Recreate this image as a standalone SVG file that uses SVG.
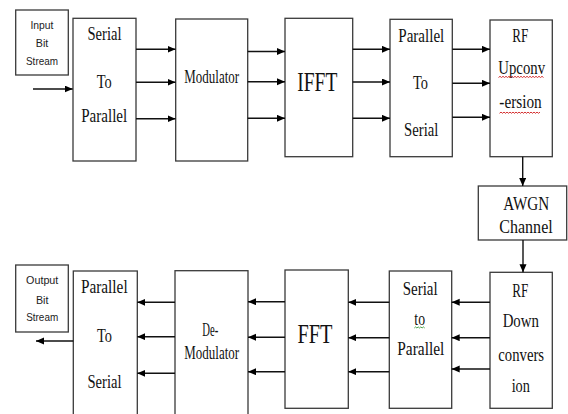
<svg xmlns="http://www.w3.org/2000/svg" width="568" height="414" viewBox="0 0 568 414">
<defs>
<marker id="ah" markerUnits="userSpaceOnUse" markerWidth="9" markerHeight="8" refX="8" refY="3.5" orient="auto">
<path d="M0,0 L8,3.5 L0,7 z" fill="#000"/>
</marker>
<style>
.box{fill:#fff;stroke:#3a3a3a;stroke-width:1.3}
.t{font-family:"Liberation Serif","Times New Roman",serif;font-size:18px;fill:#111;text-anchor:middle}
.s{font-family:"Liberation Sans",Arial,sans-serif;font-size:10.5px;fill:#222;text-anchor:middle}
.c line{stroke:#111;stroke-width:1.4;marker-end:url(#ah)}
.sq{fill:none;stroke-width:0.9}
</style>
</defs>
<rect width="568" height="414" fill="#fff"/>

<g id="input">
<rect class="box" x="15.7" y="10" width="52.6" height="65"/>
<text class="s" x="42" y="28.5" textLength="23" lengthAdjust="spacingAndGlyphs">Input</text>
<text class="s" x="42" y="46.5" textLength="12.5" lengthAdjust="spacingAndGlyphs">Bit</text>
<text class="s" x="42" y="64.5" textLength="32" lengthAdjust="spacingAndGlyphs">Stream</text>
</g>

<g id="sp1">
<rect class="box" x="73" y="18.3" width="63" height="142.7"/>
<text class="t" x="104.5" y="40" textLength="34" lengthAdjust="spacingAndGlyphs">Serial</text>
<text class="t" x="104.2" y="87.5" textLength="15" lengthAdjust="spacingAndGlyphs">To</text>
<text class="t" x="104.2" y="121.5" textLength="46" lengthAdjust="spacingAndGlyphs">Parallel</text>
</g>

<g id="mod">
<rect class="box" x="175.7" y="19" width="72" height="142"/>
<text class="t" x="211.7" y="83.3" textLength="54.7" lengthAdjust="spacingAndGlyphs">Modulator</text>
</g>

<g id="ifft">
<rect class="box" x="285" y="18.3" width="67.7" height="138.4"/>
<text class="t" x="317.3" y="90.7" style="font-size:28px" textLength="40" lengthAdjust="spacingAndGlyphs">IFFT</text>
</g>

<g id="ps1">
<rect class="box" x="390" y="19.3" width="62.3" height="137.4"/>
<text class="t" x="421.3" y="42.3" textLength="46" lengthAdjust="spacingAndGlyphs">Parallel</text>
<text class="t" x="420.5" y="89.3" textLength="15" lengthAdjust="spacingAndGlyphs">To</text>
<text class="t" x="421.2" y="136" textLength="34.3" lengthAdjust="spacingAndGlyphs">Serial</text>
</g>

<g id="rfup">
<rect class="box" x="490" y="20" width="62.3" height="136.7"/>
<text class="t" x="520.3" y="42.3" textLength="16" lengthAdjust="spacingAndGlyphs">RF</text>
<text class="t" x="521.7" y="73.5" textLength="46.7" lengthAdjust="spacingAndGlyphs">Upconv</text>
<text class="t" x="520.5" y="108.3" textLength="42.4" lengthAdjust="spacingAndGlyphs">-ersion</text>
<path class="sq" stroke="#d02020" d="M498.5,77.5 l1.5,-1.2 l1.5,1.2 l1.5,-1.2 l1.5,1.2 l1.5,-1.2 l1.5,1.2 l1.5,-1.2 l1.5,1.2 l1.5,-1.2 l1.5,1.2 l1.5,-1.2 l1.5,1.2 l1.5,-1.2 l1.5,1.2 l1.5,-1.2 l1.5,1.2 l1.5,-1.2 l1.5,1.2 l1.5,-1.2 l1.5,1.2 l1.5,-1.2 l1.5,1.2 l1.5,-1.2 l1.5,1.2 l1.5,-1.2 l1.5,1.2 l1.5,-1.2 l1.5,1.2 l1.5,-1.2 l1.5,1.2"/>
<path class="sq" stroke="#d02020" d="M499.5,113.3 l1.5,-1.2 l1.5,1.2 l1.5,-1.2 l1.5,1.2 l1.5,-1.2 l1.5,1.2 l1.5,-1.2 l1.5,1.2 l1.5,-1.2 l1.5,1.2 l1.5,-1.2 l1.5,1.2 l1.5,-1.2 l1.5,1.2 l1.5,-1.2 l1.5,1.2 l1.5,-1.2 l1.5,1.2 l1.5,-1.2 l1.5,1.2 l1.5,-1.2 l1.5,1.2 l1.5,-1.2 l1.5,1.2 l1.5,-1.2 l1.5,1.2 l1.5,-1.2"/>
</g>

<g id="awgn">
<rect class="box" x="478.3" y="186" width="88.4" height="54"/>
<text class="t" x="526.3" y="210" style="font-size:19px" textLength="46" lengthAdjust="spacingAndGlyphs">AWGN</text>
<text class="t" x="526" y="233.3" style="font-size:19px" textLength="53.4" lengthAdjust="spacingAndGlyphs">Channel</text>
</g>

<g id="output">
<rect class="box" x="15.7" y="265" width="52.6" height="67"/>
<text class="s" x="42.2" y="284" textLength="32.3" lengthAdjust="spacingAndGlyphs">Output</text>
<text class="s" x="42.2" y="304" textLength="12.5" lengthAdjust="spacingAndGlyphs">Bit</text>
<text class="s" x="42.2" y="321" textLength="32" lengthAdjust="spacingAndGlyphs">Stream</text>
</g>

<g id="ps2">
<rect class="box" x="73.3" y="271" width="64" height="146"/>
<text class="t" x="104.3" y="293.3" textLength="46.7" lengthAdjust="spacingAndGlyphs">Parallel</text>
<text class="t" x="104.5" y="341.7" textLength="15" lengthAdjust="spacingAndGlyphs">To</text>
<text class="t" x="104.5" y="388.3" textLength="34" lengthAdjust="spacingAndGlyphs">Serial</text>
</g>

<g id="demod">
<rect class="box" x="175" y="270.7" width="73" height="146"/>
<text class="t" x="210.3" y="336" textLength="16" lengthAdjust="spacingAndGlyphs">De-</text>
<text class="t" x="211.7" y="359.3" textLength="54.7" lengthAdjust="spacingAndGlyphs">Modulator</text>
</g>

<g id="fft">
<rect class="box" x="285" y="270" width="63.3" height="138.3"/>
<text class="t" x="315" y="342.7" style="font-size:28px" textLength="35" lengthAdjust="spacingAndGlyphs">FFT</text>
</g>

<g id="sp2">
<rect class="box" x="389.3" y="271" width="62.4" height="137.3"/>
<text class="t" x="420.2" y="295" textLength="35" lengthAdjust="spacingAndGlyphs">Serial</text>
<text class="t" x="419.7" y="325" textLength="10.7" lengthAdjust="spacingAndGlyphs">to</text>
<text class="t" x="420.8" y="355" textLength="47" lengthAdjust="spacingAndGlyphs">Parallel</text>
<path class="sq" stroke="#3a9a3a" d="M414.3,328 l1.3,-1.1 l1.3,1.1 l1.3,-1.1 l1.3,1.1 l1.3,-1.1 l1.3,1.1 l1.3,-1.1 l1.3,1.1"/>
</g>

<g id="rfdown">
<rect class="box" x="490" y="272.3" width="62.3" height="136"/>
<text class="t" x="520.3" y="296.7" textLength="16" lengthAdjust="spacingAndGlyphs">RF</text>
<text class="t" x="520.8" y="326.7" textLength="36.3" lengthAdjust="spacingAndGlyphs">Down</text>
<text class="t" x="521.2" y="361" textLength="45.7" lengthAdjust="spacingAndGlyphs">convers</text>
<text class="t" x="520.8" y="391.7" textLength="18.3" lengthAdjust="spacingAndGlyphs">ion</text>
</g>

<g id="connectors" class="c">
<line x1="33" y1="89" x2="72.7" y2="89"/>
<line x1="136" y1="49.3" x2="175.5" y2="49.3"/>
<line x1="136" y1="82.3" x2="175.5" y2="82.3"/>
<line x1="136" y1="118.7" x2="175.5" y2="118.7"/>
<line x1="247.7" y1="51.5" x2="285" y2="51.5"/>
<line x1="247.7" y1="81.8" x2="285" y2="81.8"/>
<line x1="247.7" y1="118.3" x2="285" y2="118.3"/>
<line x1="352.7" y1="49.3" x2="390" y2="49.3"/>
<line x1="352.7" y1="82" x2="390" y2="82"/>
<line x1="352.7" y1="118.3" x2="390" y2="118.3"/>
<line x1="452.3" y1="49.3" x2="490" y2="49.3"/>
<line x1="452.3" y1="83.3" x2="490" y2="83.3"/>
<line x1="452.3" y1="117.3" x2="490" y2="117.3"/>
<line x1="522.7" y1="156.7" x2="522.7" y2="186"/>
<line x1="523" y1="240" x2="523" y2="272.3"/>
<line x1="490" y1="302.3" x2="451.7" y2="302.3"/>
<line x1="490" y1="337.7" x2="451.7" y2="337.7"/>
<line x1="490" y1="369" x2="451.7" y2="369"/>
<line x1="389.3" y1="302.3" x2="348.3" y2="302.3"/>
<line x1="389.3" y1="337.7" x2="348.3" y2="337.7"/>
<line x1="389.3" y1="371.7" x2="348.3" y2="371.7"/>
<line x1="285" y1="301.7" x2="248" y2="301.7"/>
<line x1="285" y1="337.3" x2="248" y2="337.3"/>
<line x1="285" y1="371.7" x2="248" y2="371.7"/>
<line x1="175" y1="302.3" x2="137.3" y2="302.3"/>
<line x1="175" y1="336.7" x2="137.3" y2="336.7"/>
<line x1="175" y1="373.3" x2="137.3" y2="373.3"/>
<line x1="73.3" y1="341" x2="36" y2="341"/>
</g>
</svg>
